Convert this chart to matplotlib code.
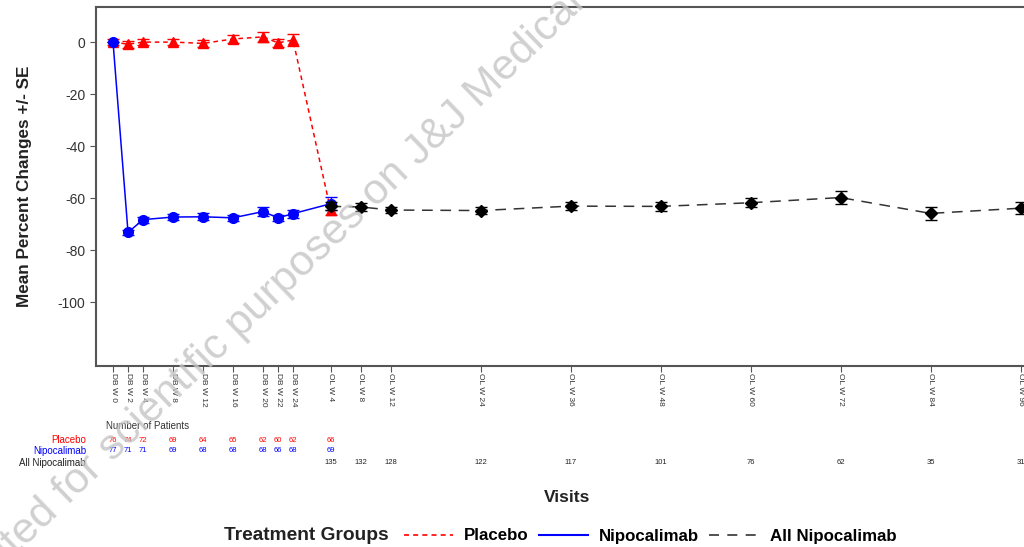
import numpy as np
import matplotlib
matplotlib.use('Agg')
import matplotlib.pyplot as plt
import matplotlib.transforms as mtransforms
from matplotlib.lines import Line2D

plt.rcParams['font.family'] = ['Liberation Sans', 'DejaVu Sans']
plt.rcParams['axes.unicode_minus'] = False

# visit labels and their study-week positions
db_labels = ['DB W 0', 'DB W 2', 'DB W 4', 'DB W 8', 'DB W 12', 'DB W 16', 'DB W 20', 'DB W 22', 'DB W 24']
db_weeks = [0, 2, 4, 8, 12, 16, 20, 22, 24]
ol_labels = ['OL W 4', 'OL W 8', 'OL W 12', 'OL W 24', 'OL W 36', 'OL W 48', 'OL W 60', 'OL W 72', 'OL W 84', 'OL W 96']
ol_weeks = [29, 33, 37, 49, 61, 73, 85, 97, 109, 121]

# placebo (DB visits + OL W4)
pbo_x = db_weeks + [29]
pbo_mean = [0.0, -0.8, 0.0, 0.0, -0.5, 1.2, 2.0, -0.3, 0.8, -64.5]
pbo_se = [1.2, 1.3, 1.3, 1.3, 1.4, 1.5, 2.0, 1.6, 2.2, 2.0]
pbo_n = ['76', '74', '72', '69', '64', '65', '62', '60', '62', '66']

# nipocalimab (DB visits + OL W4)
nipo_x = db_weeks + [29]
nipo_mean = [0.0, -73.2, -68.3, -67.3, -67.2, -67.6, -65.2, -67.6, -66.0, -62.2]
nipo_se = [0.0, 1.0, 1.2, 1.2, 1.4, 1.2, 1.7, 1.2, 1.5, 2.5]
nipo_n = ['77', '71', '71', '69', '68', '68', '68', '66', '68', '69']

# all nipocalimab (OL visits)
all_mean = [-63.2, -63.4, -64.6, -64.8, -63.1, -63.2, -61.8, -59.8, -65.9, -63.9]
all_se = [1.5, 1.4, 1.2, 1.2, 1.4, 1.6, 1.8, 2.6, 2.4, 2.4]
all_n = ['135', '132', '128', '122', '117', '101', '76', '62', '35', '31']

fig = plt.figure(figsize=(10.24, 5.47), dpi=100)
ax = fig.add_axes([96 / 1024, 1 - 366 / 547, (1043 - 96) / 1024, (366 - 7) / 547])

ax.errorbar(pbo_x, pbo_mean, yerr=pbo_se, color='red', marker='^', ms=7,
            linestyle=(0, (3, 2.5)), lw=1.1, capsize=4, elinewidth=1, zorder=3)
ax.errorbar(nipo_x, nipo_mean, yerr=nipo_se, color='blue', marker='o', ms=7,
            linestyle='-', lw=1.1, capsize=4, elinewidth=1, zorder=4)
ax.errorbar(ol_weeks, all_mean, yerr=all_se, color='#333333', marker='D', ms=6,
            mfc='black', mec='black', ecolor='black',
            linestyle=(0, (7, 5)), lw=1.1, capsize=4, elinewidth=1, zorder=5)

ax.set_xlim(-2.27, 124)
ax.set_ylim(-124.6, 13.5)
ax.set_yticks([0, -20, -40, -60, -80, -100])
ax.tick_params(axis='y', labelsize=10, labelcolor='#333333', color='#555555', length=4)
ax.set_xticks(db_weeks + ol_weeks)
ax.set_xticklabels(db_labels + ol_labels, rotation=270, fontsize=6, color='#333333')
ax.tick_params(axis='x', color='#555555', length=4, pad=1)
for s in ax.spines.values():
    s.set_color('#555555')
    s.set_linewidth(1.5)

ax.set_ylabel('Mean Percent Changes +/- SE', fontsize=12.3, fontweight='bold', color='#222222')
ax.yaxis.set_label_coords(-0.068, 0.5)

# number of patients table under the axis
trans = mtransforms.blended_transform_factory(ax.transData, fig.transFigure)
fig.text(106 / 1024, 1 - 426 / 547, 'Number of Patients', fontsize=7, color='#333333', va='center')
row_y = [1 - 440 / 547, 1 - 451 / 547, 1 - 463 / 547]
fig.text(86 / 1024, row_y[0], 'Placebo', fontsize=7, color='red', ha='right', va='center')
fig.text(86 / 1024, row_y[1], 'Nipocalimab', fontsize=7, color='blue', ha='right', va='center')
fig.text(86 / 1024, row_y[2], 'All Nipocalimab', fontsize=7, color='#222222', ha='right', va='center')
for xv, n in zip(pbo_x, pbo_n):
    ax.text(xv, row_y[0], n, transform=trans, fontsize=5.5, color='red', ha='center', va='center')
for xv, n in zip(nipo_x, nipo_n):
    ax.text(xv, row_y[1], n, transform=trans, fontsize=5.5, color='blue', ha='center', va='center')
for xv, n in zip(ol_weeks, all_n):
    ax.text(xv, row_y[2], n, transform=trans, fontsize=5.5, color='#222222', ha='center', va='center')

fig.text(567 / 1024, 1 - 498 / 547, 'Visits', fontsize=12.5, fontweight='bold',
         ha='center', va='center', color='#222222')

# legend row
fig.text(224 / 1024, 1 - 536 / 547, 'Treatment Groups', fontsize=13.8, fontweight='bold',
         va='center', color='#222222')
handles = [Line2D([], [], color='red', lw=1.2, linestyle=(0, (3, 2.5))),
           Line2D([], [], color='blue', lw=1.5, linestyle='-'),
           Line2D([], [], color='#333333', lw=1.2, linestyle=(0, (6, 5)))]
fig.legend(handles, ['Placebo', 'Nipocalimab', 'All Nipocalimab'], ncol=3, frameon=False,
           loc='center left', bbox_to_anchor=(404 / 1024, 1 - 536 / 547), borderpad=0,
           borderaxespad=0, handlelength=2.9, handletextpad=0.65, columnspacing=0.6,
           prop={'weight': 'bold', 'size': 12.2})

# watermark
fig.text(-88 / 1024, 1 - 657 / 547, 'Distributed for scientific purposes on J&J Medical Connect',
         fontsize=31, rotation=44, rotation_mode='anchor', ha='left', va='baseline',
         color='#c4c4c4', alpha=0.8, zorder=10)

fig.savefig('out.png', dpi=100)
